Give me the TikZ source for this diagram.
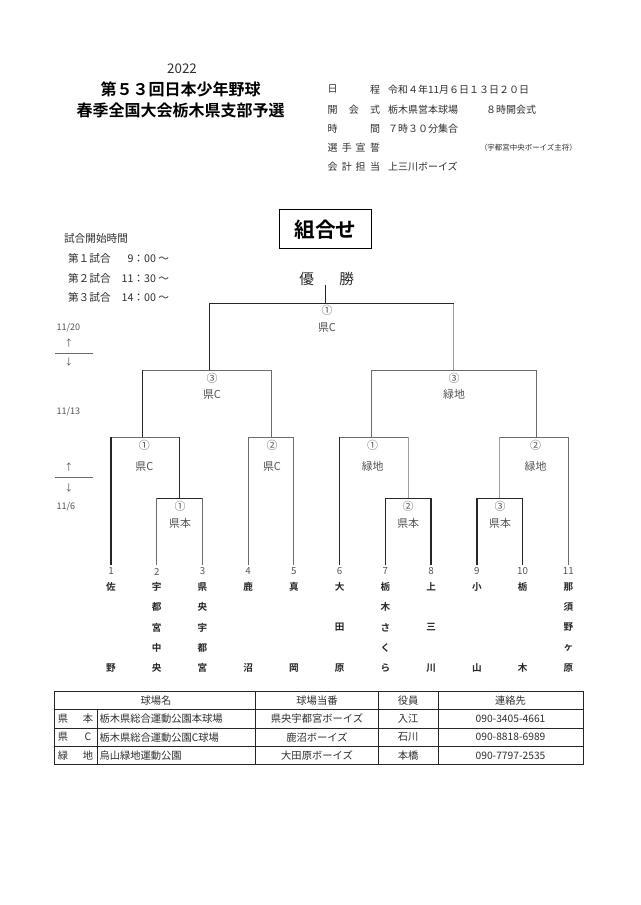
\documentclass[tikz,border=0pt]{standalone}
\usepackage{fontspec}
\setmainfont{Noto Sans CJK JP}[BoldFont={Noto Sans CJK JP Bold}]
\definecolor{lbl}{gray}{0.33}
\definecolor{inf}{gray}{0.18}
\definecolor{lng}{gray}{0.42}
\definecolor{lnl}{gray}{0.62}
\newcommand\fsz[1]{\fontsize{#1}{#1}\selectfont}
\tikzset{
  every node/.style={inner sep=0pt,outer sep=0pt},
  ttl/.style={font={\fsz{12pt}\bfseries},text=black},
  yr/.style={font={\fsz{10pt}},text=inf},
  infotxt/.style={font={\fsz{7.5pt}},text=inf},
  infosmall/.style={font={\fsz{5.6pt}},text=inf},
  timetxt/.style={font={\fsz{8pt}},text=inf},
  datetxt/.style={font={\fsz{6.8pt}},text=lbl},
  blab/.style={font={\fsz{8.2pt}},text=lbl},
  numtxt/.style={font={\fsz{7.3pt}},text=lbl},
  teamtxt/.style={font={\fsz{7.2pt}\bfseries},text=black!85},
  tbltxt/.style={font={\fsz{7.7pt}},text=inf},
  ln/.style={draw=lng,line width=0.75pt},
  dk/.style={draw=black!85,line width=1.1pt},
  lt/.style={draw=lnl,line width=0.8pt},
  tbl/.style={draw=black!85,line width=0.75pt},
}
\begin{document}
\begin{tikzpicture}[x=0.75pt,y=-0.75pt]
\fill[white] (0,0) rectangle (640,905);
\useasboundingbox (0,0) rectangle (640,905);

% ---------- header ----------
\node[yr] (year) at (182,68.8) {2022};
\node[ttl] (title1) at (180.5,89.4) {第５３回日本少年野球};
\node[ttl] (title2) at (180.5,110) {春季全国大会栃木県支部予選};

\foreach \n/\x/\y/\c in {a1/332.7/89.4/日, a2/375/89.4/程,
  b1/332.7/110/開, b2/353.8/110/会, b3/375/110/式,
  c1/332.7/129/時, c2/375/129/間,
  d1/332.7/148/選, d2/346.8/148/手, d3/360.6/148/宣, d4/375/148/誓,
  e1/332.7/167/会, e2/346.8/167/計, e3/360.6/167/担, e4/375/167/当}
  \node[infotxt] (lab\n) at (\x,\y) {\c};

\node[infotxt,anchor=west] (v1) at (388,89.4) {令和４年11月６日１３日２０日};
\node[infotxt,anchor=west] (v2) at (388,110) {栃木県営本球場};
\node[infotxt,anchor=west] (v2b) at (486,110) {８時開会式};
\node[infotxt,anchor=west] (v3) at (388,129) {７時３０分集合};
\node[infosmall,anchor=west] (v4) at (480,148) {（宇都宮中央ボーイズ主将）};
\node[infotxt,anchor=west] (v5) at (388,167) {上三川ボーイズ};

% ---------- start times ----------
\node[timetxt,anchor=west] (tt0) at (64,238) {試合開始時間};
\node[timetxt,anchor=west] (tn1) at (68,258.5) {第１試合};
\node[timetxt,anchor=east] (tv1) at (169,258.5) {9：00 ～};
\node[timetxt,anchor=west] (tn2) at (68,278.2) {第２試合};
\node[timetxt,anchor=east] (tv2) at (169,278.2) {11：30 ～};
\node[timetxt,anchor=west] (tn3) at (68,297.5) {第３試合};
\node[timetxt,anchor=east] (tv3) at (169,297.5) {14：00 ～};

% ---------- title box ----------
\node[draw=black,line width=0.8pt,minimum width=68.5pt,minimum height=29.5pt,
      font={\fsz{15.5pt}\bfseries}] (kumi) at (325.6,229.3) {組合せ};
\node[font={\fsz{11pt}},text=inf] (yusho) at (326.6,278.5) {優\hspace{19pt}勝};

% ---------- dates ----------
\node[datetxt,anchor=west] (d20) at (56.5,327.3) {11/20};
\node[datetxt,anchor=west] (d13) at (56.5,411.7) {11/13};
\node[datetxt,anchor=west] (d6) at (56.5,506.7) {11/6};
\node[datetxt] (up1) at (69,343) {↑};
\node[datetxt] (dn1) at (69,361.7) {↓};
\coordinate (sepA1) at (55,353.3);
\coordinate (sepA2) at (93,353.3);
\draw[ln] (sepA1) -- (sepA2);
\node[datetxt] (up2) at (69,466.7) {↑};
\node[datetxt] (dn2) at (69,488.3) {↓};
\coordinate (sepB1) at (55,477.3);
\coordinate (sepB2) at (93,477.3);
\draw[ln] (sepB1) -- (sepB2);

% ---------- teams ----------
\foreach \i in {1,...,11}{
  \pgfmathsetmacro\tx{111+(\i-1)*45.73}
  \node[numtxt] (num\i) at (\tx,571.5) {\i};
  \coordinate (t\i) at (\tx,565);
}
\foreach \i/\r/\c in {1/1/佐,1/5/野,
  2/1/宇,2/2/都,2/3/宮,2/4/中,2/5/央,
  3/1/県,3/2/央,3/3/宇,3/4/都,3/5/宮,
  4/1/鹿,4/5/沼, 5/1/真,5/5/岡,
  6/1/大,6/3/田,6/5/原,
  7/1/栃,7/2/木,7/3/さ,7/4/く,7/5/ら,
  8/1/上,8/3/三,8/5/川,
  9/1/小,9/5/山, 10/1/栃,10/5/木,
  11/1/那,11/2/須,11/3/野,11/4/ヶ,11/5/原}{
  \pgfmathsetmacro\tx{111+(\i-1)*45.73}
  \pgfmathsetmacro\ty{586.7+(\r-1)*20.4}
  \node[teamtxt] (nm\i-\r) at (\tx,\ty) {\c};
}

% ---------- bracket joints ----------
\coordinate (m23) at (179.6,498.7);
\coordinate (m78) at (408.2,498.7);
\coordinate (m910) at (499.7,498.7);
\coordinate (g1) at (142.7,437.3);
\coordinate (g2) at (271.3,437.3);
\coordinate (g3) at (371.3,437.3);
\coordinate (g4) at (536.7,437.3);
\coordinate (s1) at (209.7,370.3);
\coordinate (s2) at (453.7,370.3);
\coordinate (f) at (325.7,303.3);

% base lines
\draw[ln] (t1) |- (g1) -| (m23);
\draw[ln] (t2) |- (m23) -| (t3);
\draw[ln] (t4) |- (g2) -| (t5);
\draw[ln] (t6) |- (g3) -| (m78);
\draw[ln] (t7) |- (m78) -| (t8);
\draw[ln] (t9) |- (m910) -| (t10);
\draw[ln] (m910) |- (g4) -| (t11);
\draw[ln] (g1) |- (s1) -| (g2);
\draw[ln] (g3) |- (s2) -| (g4);
\draw[ln] (s1) |- (f) -| (s2);

% lighter segments
\draw[lt] (m78) -- (m78 |- g3);
\draw[lt] (m910) -- (m910 |- g4);
\draw[lt] (s2) -- (s2 |- f);

% darker segments
\draw[dk] (t1) -- (t1 |- g1);
\draw[dk] (m23) -- (m23 |- g1);
\draw[dk] (t2 |- m23) -- (t3 |- m23);
\draw[dk] (t6) -- (t6 |- g3);
\draw[dk] (t7) |- (m78) -| (t8);
\draw[dk] (t9) |- (m910) -| (t10);
\draw[dk] (g1) -- (g1 |- s1);
\draw[dk] (s1) -- (s1 |- f);
\draw[dk] (s1 |- f) -- (s2 |- f);
\draw[dk] (f) -- (f |- yusho.south);

% ---------- bracket labels ----------
\foreach \n/\x/\ya/\a/\yb/\b in {
  f/327/310.7/①/327.3/県C,
  s1/212/378/③/394.3/県C,
  s2/454/378/③/394.3/緑地,
  g1/144.3/445.7/①/466.7/県C,
  g2/272/445.7/②/466.7/県C,
  g3/372.7/445.7/①/466.7/緑地,
  g4/535.5/445.7/②/466.7/緑地,
  m23/180/506/①/523.3/県本,
  m78/408.2/506/②/523.3/県本,
  m910/500/506/③/523.3/県本}{
  \node[blab] (c\n) at (\x,\ya) {\a};
  \node[blab] (w\n) at (\x,\yb) {\b};
}

% ---------- table ----------
\draw[tbl] (54,691.2) rectangle (583,764.8);
\draw[tbl] (54,709.6) -- (583,709.6);
\draw[tbl] (54,728) -- (583,728);
\draw[tbl] (54,746.4) -- (583,746.4);
\draw[tbl] (97.5,709.6) -- (97.5,764.8);
\draw[tbl] (255.6,691.2) -- (255.6,764.8);
\draw[tbl] (378.2,691.2) -- (378.2,764.8);
\draw[tbl] (438.1,691.2) -- (438.1,764.8);

\node[tbltxt] (h1) at (156,700.4) {球場名};
\node[tbltxt] (h2) at (317,700.4) {球場当番};
\node[tbltxt] (h3) at (408.1,700.4) {役員};
\node[tbltxt] (h4) at (510.5,700.4) {連絡先};

\foreach \r/\y/\a/\b/\name/\duty/\who/\tel in {
  1/718.8/県/本/栃木県総合運動公園本球場/県央宇都宮ボーイズ/入江/090-3405-4661,
  2/737.2/県/C/栃木県総合運動公園C球場/鹿沼ボーイズ/石川/090-8818-6989,
  3/755.6/緑/地/烏山緑地運動公園/大田原ボーイズ/本橋/090-7797-2535}{
  \node[tbltxt] (ra\r) at (63,\y) {\a};
  \node[tbltxt] (rb\r) at (88,\y) {\b};
  \node[tbltxt,anchor=west] (rn\r) at (99.5,\y) {\name};
  \node[tbltxt] (rd\r) at (317,\y) {\duty};
  \node[tbltxt] (rw\r) at (408.1,\y) {\who};
  \node[tbltxt] (rt\r) at (510.5,\y) {\tel};
}
\end{tikzpicture}
\end{document}
